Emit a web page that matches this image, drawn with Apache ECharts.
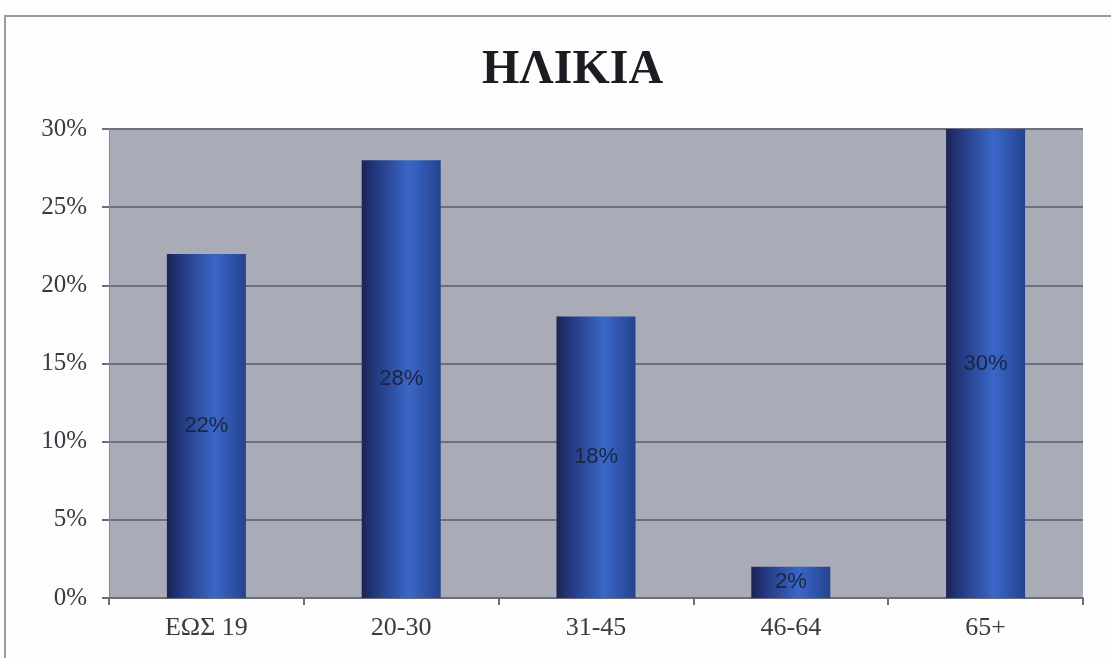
<!DOCTYPE html>
<html lang="el">
<head>
    <meta charset="UTF-8">
    <title>ΗΛΙΚΙΑ</title>
    <script src="https://cdn.jsdelivr.net/npm/echarts@6/dist/echarts.min.js"></script>
    <style>
        html, body { margin: 0; padding: 0; background: #fff; }
    </style>
</head>
<body>
    <div id="main" style="width:1111px;height:658px;"></div>

<script>

var categories = ['ΕΩΣ 19', '20-30', '31-45', '46-64', '65+'];
var values = [22, 28, 18, 2, 30];
var yTicks = [0, 5, 10, 15, 20, 25, 30];

var myChart = echarts.init(document.getElementById('main'));

var serif = '"Liberation Serif", "DejaVu Serif", serif';

myChart.setOption({
    backgroundColor: '#fdfdfe',
    title: {
        text: 'ΗΛΙΚΙΑ',
        left: 477,
        top: 42,
        textStyle: {
            fontFamily: serif,
            fontWeight: 'bold',
            fontSize: 48,
            color: '#1c1c22'
        }
    },
    graphic: [{
        type: 'polyline',
        shape: { points: [[5, 658], [5, 16], [1111, 16]] },
        style: { stroke: '#9a9aa4', lineWidth: 2, fill: null }
    }],
    grid: {
        left: 109,
        right: 28,
        top: 129,
        bottom: 60,
        show: true,
        backgroundColor: '#a9abb6',
        borderWidth: 0
    },
    xAxis: {
        type: 'category',
        data: categories,
        axisLine: { lineStyle: { color: '#6c6c7a', width: 2 } },
        axisTick: { show: true, length: 7, lineStyle: { color: '#6c6c7a', width: 2 } },
        axisLabel: {
            fontFamily: serif,
            fontSize: 26,
            color: '#3a3a42',
            margin: 17
        }
    },
    yAxis: {
        type: 'value',
        min: yTicks[0],
        max: yTicks[yTicks.length - 1],
        interval: 5,
        axisLine: { show: true, lineStyle: { color: '#8a8a96', width: 1 } },
        axisTick: { show: true, length: 7, lineStyle: { color: '#6c6c7a', width: 2 } },
        splitLine: { lineStyle: { color: '#6e6e7e', width: 2 } },
        axisLabel: {
            fontFamily: serif,
            fontSize: 25,
            color: '#3a3a42',
            margin: 22,
            formatter: '{value}%'
        }
    },
    series: [{
        type: 'bar',
        data: values,
        barWidth: 79,
        itemStyle: {
            color: new echarts.graphic.LinearGradient(0, 0, 1, 0, [
                { offset: 0, color: '#1c2350' },
                { offset: 0.15, color: '#22367a' },
                { offset: 0.6, color: '#3a67c8' },
                { offset: 1, color: '#24438e' }
            ])
        },
        label: {
            show: true,
            position: 'inside',
            formatter: '{c}%',
            fontFamily: '"Liberation Sans", Arial, sans-serif',
            fontSize: 22,
            color: '#1e2440'
        }
    }]
});

</script>
</body>
</html>
